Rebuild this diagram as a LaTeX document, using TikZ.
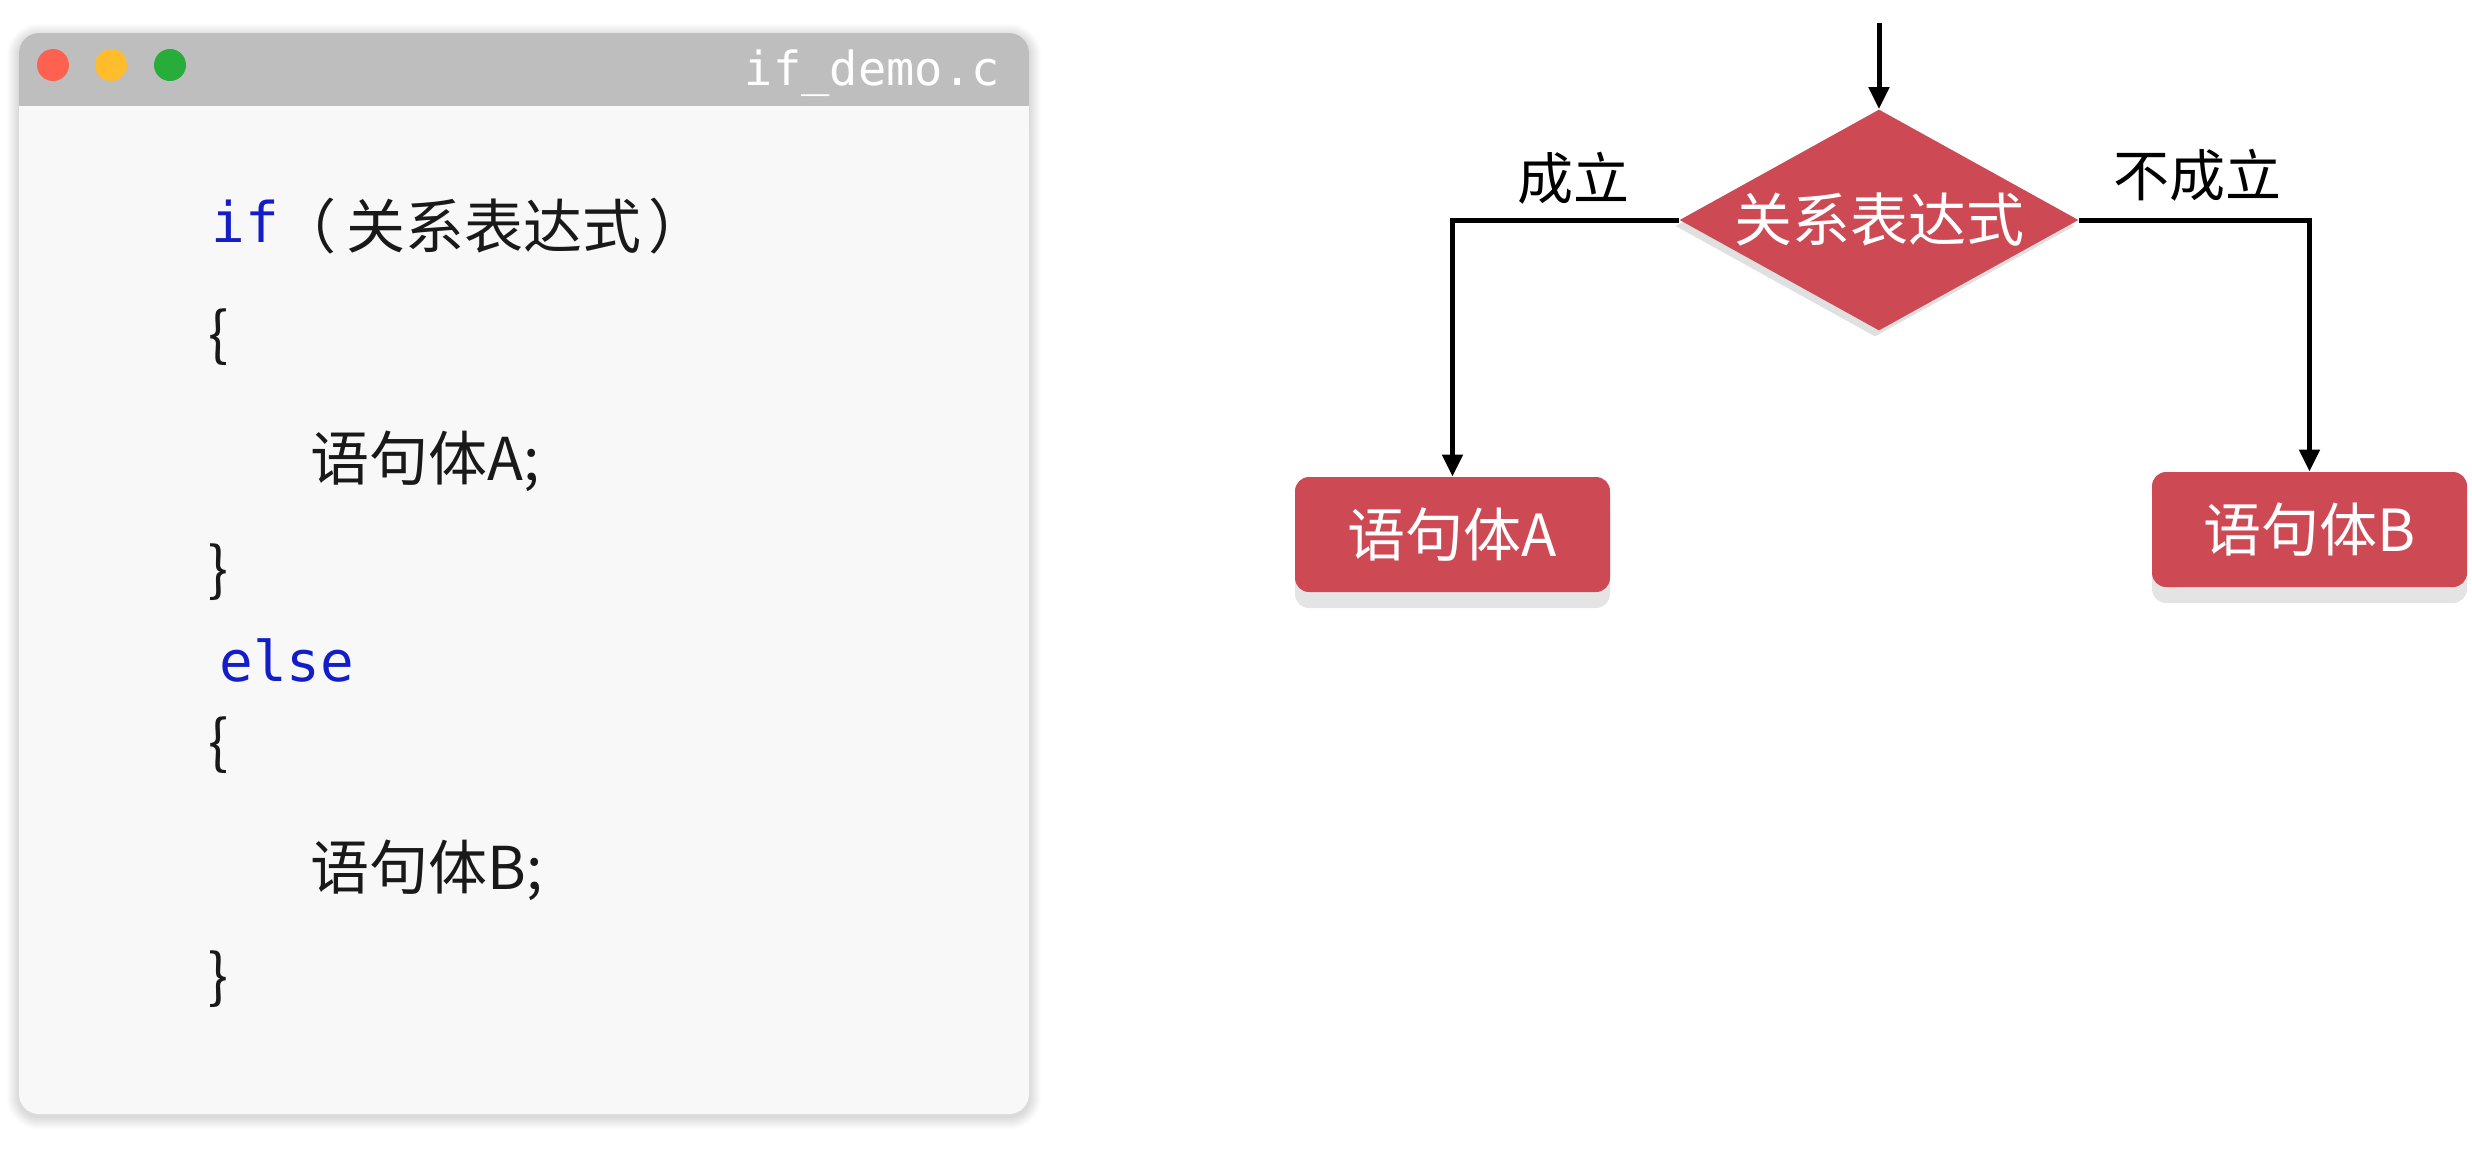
\documentclass[tikz,border=0pt]{standalone}
\usepackage{fontspec}
\setmainfont{Noto Sans CJK SC}
\newfontfamily\cjk{Noto Sans CJK SC}
\newfontfamily\monof{DejaVu Sans Mono}
\usetikzlibrary{shapes.geometric,arrows.meta,shadows}
\definecolor{flowred}{RGB}{205,74,85}
\definecolor{winbg}{RGB}{248,248,248}
\definecolor{titlebar}{RGB}{190,190,190}
\definecolor{dotred}{RGB}{255,97,80}
\definecolor{dotyellow}{RGB}{255,189,46}
\definecolor{dotgreen}{RGB}{40,172,58}
\definecolor{kwblue}{RGB}{20,30,200}
\definecolor{codeblack}{RGB}{25,25,25}
\definecolor{boxshadow}{RGB}{228,228,228}
\tikzset{
  kw/.style={anchor=base west, inner sep=0pt, text=kwblue, font=\monof\fontsize{28pt}{30pt}\selectfont},
  code/.style={anchor=base west, inner sep=0pt, text=codeblack, font=\cjk\fontsize{29.5pt}{31pt}\selectfont},
  brace/.style={anchor=west, inner sep=0pt, text=codeblack, font=\cjk\fontsize{29.5pt}{31pt}\selectfont},
  decision/.style={diamond, aspect=1.8, fill=flowred, text=white, inner sep=0pt,
    minimum width=199.5pt, minimum height=110.5pt, font=\cjk\fontsize{29pt}{30pt}\selectfont,
    drop shadow={shadow xshift=-2pt, shadow yshift=-3pt, opacity=0.2, fill=black!60}},
  stmt/.style={rectangle, rounded corners=7pt, fill=flowred, text=white, inner sep=0pt,
    minimum width=157.5pt, minimum height=57.5pt, font=\cjk\fontsize{29pt}{30pt}\selectfont,
    drop shadow={shadow xshift=0pt, shadow yshift=-8pt, opacity=1, fill=boxshadow}},
  lbl/.style={inner sep=0pt, text=black, font=\cjk\fontsize{28pt}{30pt}\selectfont},
  arr/.style={line width=2.5pt, draw=black, -{Triangle[width=10pt,length=11pt]}}
}
\begin{document}
\begin{tikzpicture}[x=0.5pt,y=-0.5pt]
\useasboundingbox (0,0) rectangle (2472,1148);
\fill[white] (0,0) rectangle (2472,1148);
% window shadow
\foreach \i in {1,...,12} {
  \fill[black, opacity=0.012, rounded corners={10pt+\i*0.5pt}] (19-\i,33-\i+3) rectangle (1029+\i,1114+\i+3);
}
% window
\fill[winbg, rounded corners=10pt] (19,33) rectangle (1029,1114);
\fill[titlebar, rounded corners=10pt] (19,33) rectangle (1029,150);
\fill[winbg] (19,106) rectangle (1029,170);
\fill[dotred] (53,65) circle[radius=8pt];
\fill[dotyellow] (111,65) circle[radius=8pt];
\fill[dotgreen] (170,65) circle[radius=8pt];
\node[anchor=base east, inner sep=0pt, text=white, font=\monof\fontsize{23.5pt}{24pt}\selectfont] (title) at (1000,85) {if\_demo.c};
% code
\node[kw] (if) at (211,242) {if};
\node[code, anchor=base east] (lp) at (337,248) {（};
\node[code] (cond) at (346,248) {关系表达式};
\node[code] (rp) at (648,248) {）};
\node[brace] (lb1) at (208,337) {\{};
\node[code] (stA) at (310,480) {语句体A;};
\node[brace] (rb1) at (208,572) {\}};
\node[kw] (else) at (219,681) {else};
\node[brace] (lb2) at (208,745) {\{};
\node[code] (stB) at (310,889) {语句体B;};
\node[brace] (rb2) at (208,979) {\}};
% flowchart
\node[decision] (dec) at (1879,220) {关系表达式};
\node[stmt] (A) at (1452.5,534.5) {语句体A};
\node[stmt] (B) at (2309.5,529.5) {语句体B};
\node[lbl] (yes) at (1573,178) {成立};
\node[lbl] (no) at (2197,175) {不成立};
\coordinate (in) at (1879,23);
\draw[arr] (in) -- (dec.north);
\draw[arr] (dec.west) -| (A.north);
\draw[arr] (dec.east) -| (B.north);
\end{tikzpicture}
\end{document}
